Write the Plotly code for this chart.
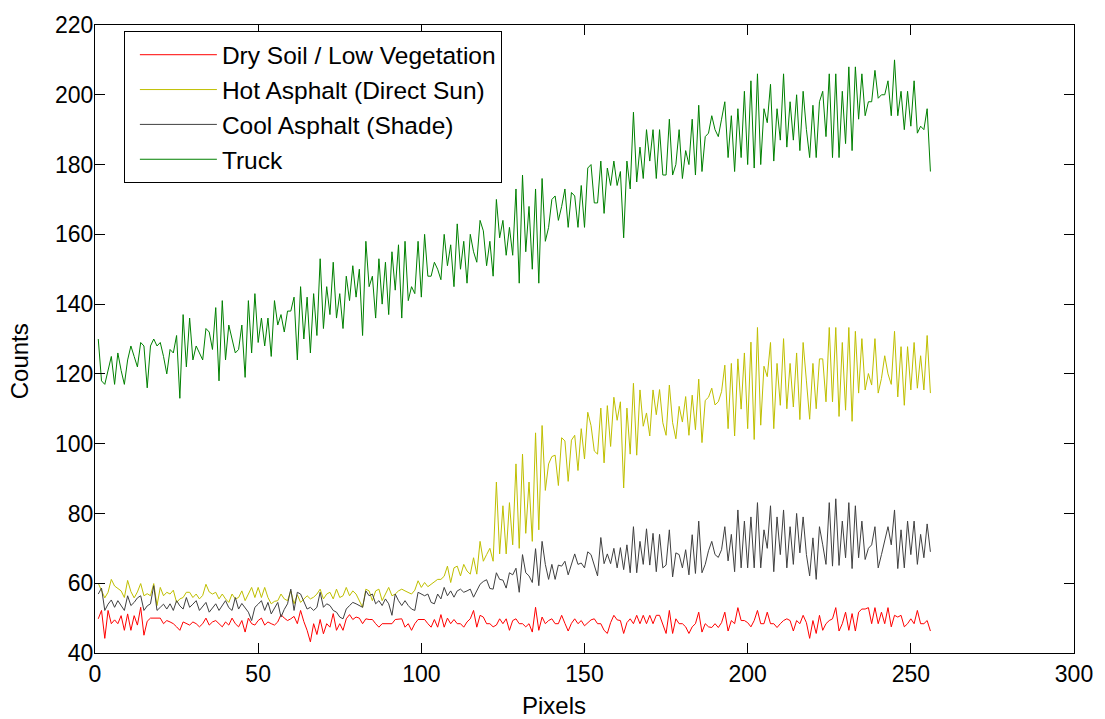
import numpy as np
import plotly.graph_objects as go

# Spectral profile counts per pixel for four surface types
pixels = np.arange(1, 257)

truck = [
    130, 118, 117, 121, 125, 117, 126, 121, 117, 124,
    128, 125, 122, 129, 128, 116, 128, 130, 128, 129,
    125, 120, 127, 126, 131, 113, 137, 122, 136, 124,
    128, 126, 124, 133, 132, 127, 139, 118, 141, 124,
    134, 130, 126, 127, 134, 119, 141, 126, 143, 129,
    136, 128, 136, 125, 141, 134, 137, 132, 138, 138,
    142, 124, 145, 130, 142, 126, 143, 131, 153, 133,
    145, 137, 152, 136, 143, 133, 148, 141, 151, 142,
    150, 131, 158, 145, 148, 136, 153, 140, 152, 137,
    155, 144, 157, 136, 158, 141, 145, 143, 158, 142,
    160, 148, 148, 152, 150, 147, 160, 151, 157, 145,
    163, 150, 158, 146, 160, 155, 152, 164, 161, 151,
    158, 148, 170, 159, 164, 154, 162, 154, 173, 146,
    177, 155, 168, 150, 173, 146, 176, 158, 162, 170,
    171, 164, 168, 173, 162, 172, 171, 162, 174, 162,
    179, 180, 169, 169, 181, 166, 179, 174, 181, 174,
    178, 159, 181, 173, 195, 175, 185, 176, 190, 181,
    190, 176, 190, 177, 177, 193, 177, 180, 190, 176,
    184, 180, 193, 177, 197, 178, 188, 189, 194, 190,
    188, 193, 198, 182, 194, 178, 196, 182, 201, 180,
    204, 179, 206, 180, 196, 192, 203, 181, 196, 187,
    206, 185, 198, 187, 200, 184, 201, 190, 182, 197,
    182, 198, 201, 188, 206, 182, 206, 182, 201, 186,
    208, 184, 208, 193, 206, 194, 198, 198, 207, 199,
    200, 200, 204, 194, 210, 194, 201, 190, 201, 191,
    204, 189, 191, 190, 196, 178,
]

hot_asphalt = [
    60.0, 58.0, 55.8, 57.4, 61.1, 59.2, 58.5, 57.8, 55.9, 60.8,
    57.6, 55.8, 57.5, 59.9, 56.4, 57.0, 56.4, 59.9, 53.6, 58.8,
    56.4, 57.4, 56.9, 58.0, 54.5, 55.5, 55.9, 57.4, 57.4, 55.9,
    56.9, 55.5, 56.5, 59.7, 57.5, 56.9, 57.4, 55.5, 56.9, 55.5,
    54.5, 56.9, 55.5, 55.9, 57.8, 55.0, 56.9, 58.8, 55.9, 58.8,
    55.9, 58.8, 55.9, 54.1, 54.8, 55.0, 56.9, 55.5, 55.0, 57.8,
    54.1, 56.7, 54.5, 55.5, 56.4, 55.5, 56.0, 56.9, 58.3, 55.5,
    56.9, 57.4, 55.5, 58.3, 55.9, 56.4, 58.8, 56.4, 57.8, 56.9,
    55.0, 53.1, 58.3, 57.8, 55.0, 57.8, 58.3, 55.0, 56.9, 58.8,
    56.4, 56.9, 57.8, 58.3, 57.8, 57.4, 56.9, 58.0, 60.7, 58.8,
    60.2, 59.0, 59.7, 60.2, 61.1, 61.1, 62.0, 64.9, 60.2, 64.4,
    64.9, 62.1, 65.4, 63.5, 62.6, 67.3, 62.6, 72.0, 66.3, 68.2,
    70.0, 66.3, 89.0, 68.4, 82.2, 68.4, 83.1, 71.0, 94.2, 70.0,
    97.0, 74.3, 89.0, 72.0, 103.1, 75.3, 105.2, 86.6, 94.2, 96.3,
    96.7, 88.0, 101.7, 100.8, 89.2, 101.0, 102.4, 92.3, 104.3, 95.6,
    109.0, 105.2, 97.9, 97.0, 110.2, 94.5, 110.9, 99.2, 113.3, 106.7,
    112.0, 87.3, 110.2, 97.0, 117.3, 96.7, 115.4, 105.0, 108.8, 102.2,
    115.4, 108.3, 115.5, 106.0, 102.4, 116.8, 106.0, 101.4, 110.7, 106.2,
    113.5, 102.4, 113.9, 104.0, 118.5, 100.3, 112.4, 113.3, 115.9, 111.1,
    112.0, 114.9, 122.5, 104.3, 123.0, 102.2, 124.3, 109.9, 126.0, 104.3,
    129.1, 101.2, 133.3, 105.3, 122.2, 119.2, 129.0, 104.3, 123.0, 111.0,
    130.1, 110.0, 123.0, 110.5, 126.0, 106.9, 129.0, 118.0, 107.0, 123.0,
    110.0, 124.3, 124.3, 112.0, 133.3, 112.0, 133.3, 107.8, 129.0, 109.6,
    133.3, 106.4, 132.2, 114.5, 130.1, 115.4, 120.1, 116.8, 130.1, 114.5,
    118.7, 125.2, 120.0, 117.0, 132.2, 113.4, 127.8, 111.0, 127.8, 115.4,
    129.0, 115.9, 125.2, 115.4, 131.0, 114.5,
]

cool_asphalt = [
    56.9, 58.6, 52.2, 54.0, 55.2, 53.1, 55.0, 53.5, 52.2, 56.4,
    53.6, 54.5, 55.8, 56.4, 52.2, 53.5, 54.1, 59.3, 52.2, 53.1,
    54.0, 52.6, 54.1, 52.2, 55.0, 53.5, 52.6, 55.9, 53.1, 54.0,
    55.0, 52.2, 53.5, 54.5, 51.7, 53.0, 54.1, 52.2, 53.5, 55.0,
    53.0, 52.2, 55.9, 52.6, 54.2, 53.0, 51.7, 49.3, 53.1, 54.0,
    55.0, 52.2, 54.5, 51.2, 53.0, 54.5, 50.3, 52.5, 54.1, 58.3,
    52.2, 57.4, 56.9, 54.5, 52.6, 53.1, 52.2, 53.1, 57.4, 53.1,
    54.1, 53.6, 52.2, 51.7, 50.3, 49.8, 52.6, 53.6, 54.5, 54.1,
    53.6, 53.1, 57.8, 56.4, 56.9, 54.1, 55.0, 53.6, 55.5, 54.1,
    50.8, 56.9, 55.0, 53.6, 55.0, 53.6, 52.6, 52.2, 57.4, 56.9,
    56.4, 56.9, 54.5, 54.1, 56.9, 55.5, 58.8, 56.4, 57.8, 56.0,
    57.8, 58.3, 57.4, 57.8, 58.3, 56.0, 57.8, 59.7, 60.5, 61.0,
    58.5, 58.3, 63.0, 61.1, 60.9, 58.6, 63.0, 62.4, 64.3, 57.4,
    68.2, 63.0, 62.1, 60.2, 69.9, 59.3, 72.0, 65.4, 61.1, 65.4,
    61.1, 65.2, 64.9, 66.3, 62.4, 65.4, 68.4, 65.4, 65.8, 64.4,
    69.0, 68.2, 65.0, 62.1, 73.1, 65.6, 68.4, 65.6, 70.0, 64.4,
    70.2, 63.9, 71.0, 63.0, 76.2, 63.0, 72.0, 65.4, 75.6, 65.2,
    74.3, 63.3, 74.0, 64.4, 65.2, 75.3, 61.8, 68.7, 68.2, 64.4,
    69.6, 62.4, 73.9, 62.8, 77.8, 63.0, 65.4, 69.3, 72.0, 68.2,
    67.4, 69.6, 76.2, 66.4, 74.0, 63.3, 81.0, 64.4, 77.8, 64.4,
    79.0, 64.4, 83.1, 64.4, 75.3, 70.0, 82.2, 63.3, 79.0, 68.2,
    81.0, 64.4, 76.2, 65.4, 80.0, 68.7, 79.0, 68.2, 62.1, 73.0,
    61.1, 76.2, 71.0, 65.4, 83.1, 64.9, 84.2, 65.1, 77.8, 67.3,
    83.1, 64.2, 82.2, 67.3, 77.8, 66.8, 70.0, 71.0, 76.2, 64.4,
    68.2, 72.0, 76.2, 71.0, 81.0, 64.2, 75.3, 64.4, 77.8, 68.2,
    77.8, 65.4, 74.0, 67.3, 77.0, 69.0,
]

dry_soil = [
    49.8, 52.2, 44.2, 52.2, 48.4, 49.5, 48.4, 50.7, 46.5, 51.2,
    46.5, 50.7, 48.0, 53.1, 45.1, 49.1, 50.0, 50.0, 50.0, 50.0,
    48.4, 49.3, 48.9, 48.4, 47.5, 46.5, 48.9, 48.4, 48.0, 48.9,
    48.4, 47.5, 48.4, 50.0, 48.0, 48.9, 49.3, 48.4, 47.5, 48.9,
    48.0, 50.0, 48.4, 47.5, 49.3, 46.0, 50.0, 48.4, 48.0, 49.3,
    50.0, 48.0, 48.9, 48.4, 48.0, 48.9, 51.0, 50.0, 49.3, 49.8,
    50.5, 48.4, 52.2, 49.0, 46.5, 43.2, 48.4, 45.3, 49.6, 45.5,
    48.4, 47.4, 51.3, 46.5, 48.4, 46.5, 49.8, 51.0, 49.6, 50.3,
    50.0, 48.4, 49.8, 49.6, 49.6, 48.4, 47.4, 48.4, 48.4, 48.4,
    48.4, 49.6, 49.8, 49.8, 47.4, 48.4, 46.5, 48.4, 49.6, 49.6,
    49.6, 48.4, 47.4, 49.6, 47.4, 51.0, 47.4, 50.0, 48.4, 49.6,
    48.4, 48.4, 47.4, 48.9, 49.8, 52.2, 47.4, 50.8, 50.3, 48.4,
    48.4, 47.5, 48.0, 49.8, 48.4, 49.8, 46.5, 49.3, 49.8, 48.4,
    48.4, 47.5, 48.4, 46.0, 53.1, 46.5, 50.3, 48.4, 49.3, 49.8,
    48.4, 48.4, 50.8, 48.5, 46.3, 48.5, 49.8, 48.4, 49.3, 47.8,
    48.7, 49.5, 49.8, 48.4, 48.4, 46.5, 45.6, 48.7, 50.8, 49.5,
    49.3, 45.6, 48.7, 49.8, 48.4, 50.8, 48.4, 50.8, 48.4, 50.8,
    48.4, 50.8, 50.8, 48.4, 45.6, 52.2, 45.6, 49.8, 48.4, 48.4,
    47.5, 45.6, 47.5, 48.4, 51.7, 46.0, 48.4, 47.5, 47.3, 48.4,
    47.3, 48.7, 51.7, 46.3, 49.3, 48.4, 53.0, 49.3, 49.3, 48.7,
    47.5, 49.3, 52.2, 48.4, 48.4, 51.7, 48.4, 48.4, 47.3, 48.4,
    49.3, 49.8, 49.3, 46.3, 49.3, 48.4, 50.8, 48.7, 44.2, 49.3,
    45.6, 50.8, 46.5, 48.4, 49.3, 49.8, 53.0, 46.3, 48.4, 51.7,
    46.5, 51.3, 46.3, 51.7, 52.6, 52.6, 53.0, 48.4, 53.0, 48.4,
    51.7, 48.4, 53.0, 47.5, 50.8, 50.3, 50.8, 47.5, 48.4, 49.8,
    48.4, 52.2, 48.4, 48.4, 49.3, 46.3,
]

series = [
    ("Dry Soil / Low Vegetation", dry_soil, "#FF0000"),
    ("Hot Asphalt (Direct Sun)", hot_asphalt, "#BFBF00"),
    ("Cool Asphalt (Shade)", cool_asphalt, "#404040"),
    ("Truck", truck, "#008000"),
]

fig = go.Figure()
for i, (name, values, color) in enumerate(series):
    fig.add_trace(go.Scatter(
        x=pixels, y=values, mode="lines", name=name,
        line=dict(color=color, width=1),
        legendgroup=f"g{i}",
    ))

axis_style = dict(
    showline=True, linecolor="black", linewidth=1, mirror="ticks",
    ticks="inside", ticklen=10, tickcolor="black", tickwidth=1,
    showgrid=False, zeroline=False,
    tickfont=dict(size=23, color="black"),
)

fig.update_layout(
    width=1105, height=719,
    margin=dict(l=95, r=27, t=17, b=66),
    plot_bgcolor="white", paper_bgcolor="white",
    font=dict(family="Liberation Sans, Arial, sans-serif", size=23, color="black"),
    xaxis=dict(range=[0, 300], dtick=50, tick0=0, **axis_style),
    yaxis=dict(range=[40, 220], dtick=20, tick0=40, ticklabelstandoff=-4,
               **axis_style),
    legend=dict(
        x=0.0295, y=0.99, xanchor="left", yanchor="top",
        bgcolor="white", bordercolor="black", borderwidth=1,
        font=dict(size=24.5, color="black"),
        itemwidth=77, indentation=10, tracegroupgap=0,
    ),
    annotations=[
        dict(text="Pixels", xref="paper", yref="paper", x=0.469, y=-0.0833,
             xanchor="center", yanchor="middle", showarrow=False,
             font=dict(size=24)),
        dict(text="Counts", xref="paper", yref="paper", x=-0.0763, y=0.465,
             xanchor="center", yanchor="middle", showarrow=False,
             textangle=-90, font=dict(size=24)),
    ],
)

fig.write_html("out.html")
